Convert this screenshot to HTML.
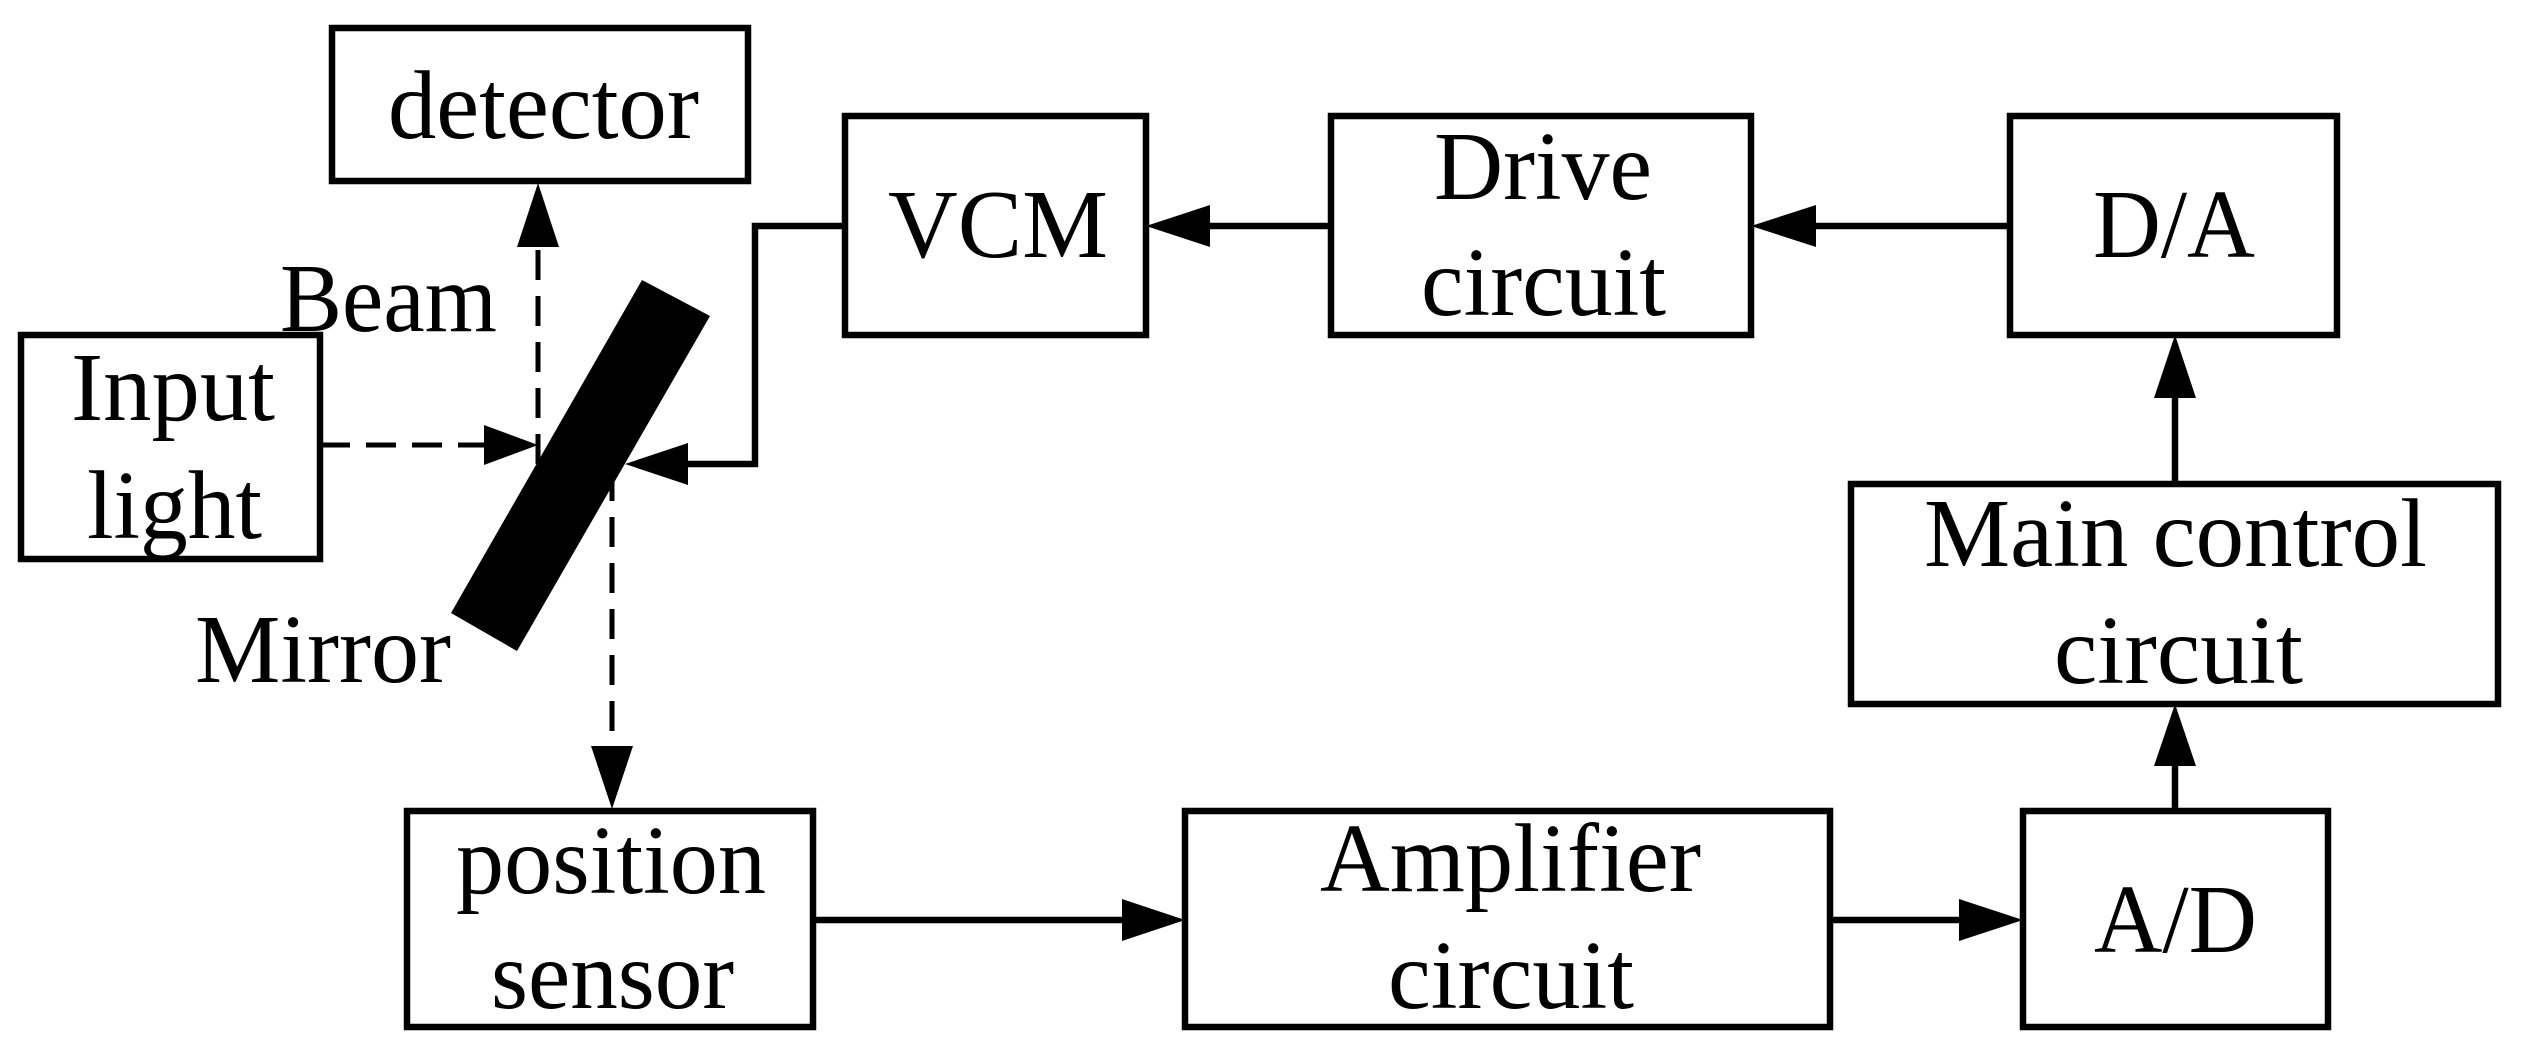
<!DOCTYPE html>
<html><head><meta charset="utf-8"><style>html,body{margin:0;padding:0;background:#fff;overflow:hidden}svg{display:block}</style></head>
<body>
<svg width="2524" height="1054" viewBox="0 0 2524 1054" xmlns="http://www.w3.org/2000/svg">
<g fill="none" stroke="#000" stroke-width="6.5">
<rect x="332" y="28" width="416" height="153"/>
<rect x="845" y="116" width="301" height="219"/>
<rect x="21" y="335" width="299" height="224"/>
<rect x="407" y="811" width="406" height="216"/>
<rect x="1185" y="811" width="645" height="216"/>
<rect x="1331" y="116" width="420" height="219"/>
<rect x="2010" y="116" width="327" height="219"/>
<rect x="1851" y="484" width="647" height="220"/>
<rect x="2023" y="811" width="305" height="216"/>
<line x1="1331" y1="226" x2="1200" y2="226"/>
<line x1="2010" y1="226" x2="1810" y2="226"/>
<line x1="2175" y1="484" x2="2175" y2="395"/>
<line x1="2175" y1="811" x2="2175" y2="760"/>
<line x1="813" y1="920" x2="1130" y2="920"/>
<line x1="1830" y1="920" x2="1965" y2="920"/>
<polyline points="845,226 755,226 755,464 680,464"/>
</g>
<g fill="none" stroke="#000" stroke-width="5" stroke-dasharray="30 16">
<line x1="320" y1="445" x2="490" y2="445"/>
<line x1="538" y1="464" x2="538" y2="250"/>
<line x1="612" y1="471" x2="612" y2="750"/>
</g>
<g fill="#000">
<polygon points="1146,226 1210,205 1210,247"/>
<polygon points="1751,226 1816,205 1816,247"/>
<polygon points="2175,335 2154,398 2196,398"/>
<polygon points="2175,704 2154,766 2196,766"/>
<polygon points="2023,920 1959,899 1959,941"/>
<polygon points="1185,920 1122,899 1122,941"/>
<polygon points="625,464 688,443 688,485"/>
<polygon points="538,445 484,425 484,465"/>
<polygon points="538,183 517,247 559,247"/>
<polygon points="612,809 591,746 633,746"/>
<polygon points="642,280 710,316 517,651 451,613"/>
</g>
<g font-family="Liberation Serif, serif" font-size="97" fill="#000">
<text x="388" y="138" textLength="311" lengthAdjust="spacingAndGlyphs">detector</text>
<text x="888" y="257" textLength="220" lengthAdjust="spacingAndGlyphs">VCM</text>
<text x="280" y="331" textLength="217" lengthAdjust="spacingAndGlyphs">Beam</text>
<text x="71" y="420" textLength="204" lengthAdjust="spacingAndGlyphs">Input</text>
<text x="87" y="538" textLength="175" lengthAdjust="spacingAndGlyphs">light</text>
<text x="195" y="682" textLength="256" lengthAdjust="spacingAndGlyphs">Mirror</text>
<text x="456" y="893" textLength="310" lengthAdjust="spacingAndGlyphs">position</text>
<text x="491" y="1008" textLength="243" lengthAdjust="spacingAndGlyphs">sensor</text>
<text x="1434" y="199" textLength="218" lengthAdjust="spacingAndGlyphs">Drive</text>
<text x="1421" y="315" textLength="245" lengthAdjust="spacingAndGlyphs">circuit</text>
<text x="2093" y="257" textLength="162" lengthAdjust="spacingAndGlyphs">D/A</text>
<text x="1924" y="566" textLength="503" lengthAdjust="spacingAndGlyphs">Main control</text>
<text x="2054" y="683" textLength="249" lengthAdjust="spacingAndGlyphs">circuit</text>
<text x="1320" y="891" textLength="381" lengthAdjust="spacingAndGlyphs">Amplifier</text>
<text x="1388" y="1008" textLength="246" lengthAdjust="spacingAndGlyphs">circuit</text>
<text x="2094" y="952" textLength="163" lengthAdjust="spacingAndGlyphs">A/D</text>
</g>
</svg>
</body></html>
